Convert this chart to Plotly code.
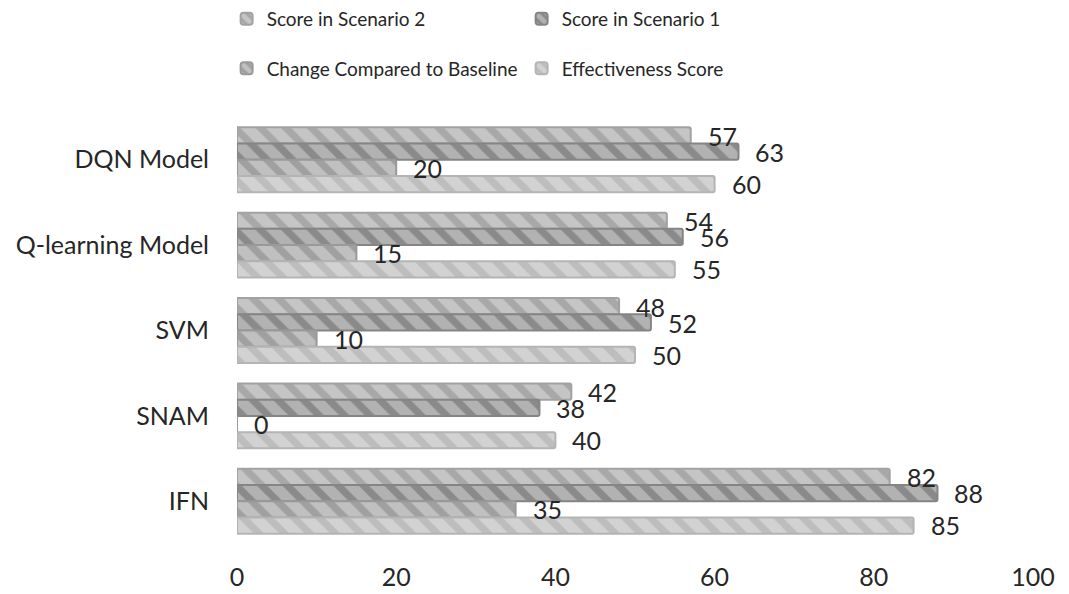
import plotly.graph_objects as go

# Categories, listed top to bottom
models = ["DQN Model", "Q-learning Model", "SVM", "SNAM", "IFN"]

# Series values per model
score_scenario2 = [57, 54, 48, 42, 82]
score_scenario1 = [63, 56, 52, 38, 88]
change_vs_baseline = [20, 15, 10, 0, 35]
effectiveness = [60, 55, 50, 40, 85]

x_ticks = [0, 20, 40, 60, 80, 100]

FONT = "Lato"
TEXT = "#262626"

# (name, values, fill, stripe, outline, legend, pixel offset of the bar centre)
# Listed top bar first within each group (the y axis is reversed).
series = [
    ("Score in Scenario 2", score_scenario2, "#a8a8a8", "#e2e2e2", "#a2a2a2", "legend", 24),
    ("Score in Scenario 1", score_scenario1, "#8a8a8a", "#dadada", "#858585", "legend", 8),
    ("Change Compared to Baseline", change_vs_baseline, "#a0a0a0", "#e0e0e0", "#999999", "legend2", -8),
    ("Effectiveness Score", effectiveness, "#bdbdbd", "#e8e8e8", "#b4b4b4", "legend2", -24),
]

fig = go.Figure()
annotations = []
for name, vals, fill, stripe, outline, leg, shift in series:
    fig.add_trace(go.Bar(
        y=models, x=vals, name=name, orientation="h", legend=leg,
        marker=dict(
            color=fill,
            line=dict(color=outline, width=2),
            cornerradius=2,
            pattern=dict(shape="\\", fgcolor=stripe, bgcolor=fill,
                         size=18, solidity=0.6, fillmode="overlay"),
        ),
        hoverinfo="x+y+name",
    ))
    for m, v in zip(models, vals):
        annotations.append(dict(
            x=v, y=m, xref="x", yref="y", text=str(v), showarrow=False,
            xanchor="left", yanchor="middle", xshift=15, yshift=shift,
            font=dict(family=FONT, size=25, color=TEXT),
        ))

legend_style = dict(
    orientation="h", xref="container", yref="container",
    xanchor="left", yanchor="top",
    traceorder="normal", entrywidth=250, entrywidthmode="pixels",
    itemwidth=30, font=dict(family=FONT, size=19, color=TEXT),
    bgcolor="rgba(0,0,0,0)",
)

fig.update_layout(
    width=1069, height=594,
    margin=dict(l=237, r=36, t=117, b=50),
    paper_bgcolor="white", plot_bgcolor="white",
    barmode="group", bargap=0.24, bargroupgap=0,
    font=dict(family=FONT, size=25, color=TEXT),
    annotations=annotations,
    legend=dict(legend_style, x=0.212, y=1.0),
    legend2=dict(legend_style, x=0.212, y=0.917),
    xaxis=dict(
        range=[0, 100], tickvals=x_ticks, showgrid=False, zeroline=False,
        showline=False, ticks="", ticklabelstandoff=16, automargin=False,
        tickfont=dict(family=FONT, size=25, color=TEXT),
    ),
    yaxis=dict(
        categoryorder="array", categoryarray=models, autorange="reversed",
        showgrid=False, zeroline=False, showline=False, ticks="",
        ticklabelstandoff=27, automargin=False,
        tickfont=dict(family=FONT, size=25, color=TEXT),
    ),
)

fig.write_html("out.html")
